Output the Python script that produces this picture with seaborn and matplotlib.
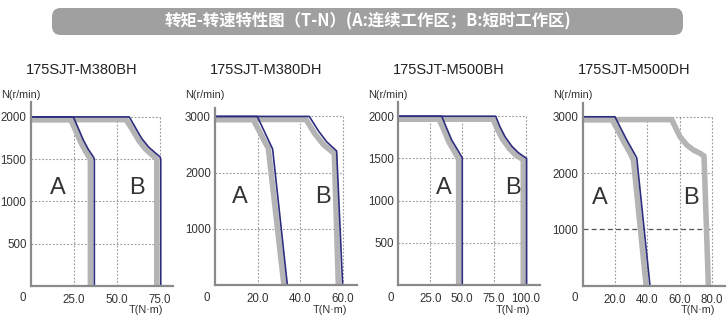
import matplotlib
matplotlib.use("Agg")
import matplotlib.pyplot as plt
import seaborn as sns
import pandas as pd
from matplotlib.patches import FancyBboxPatch

sns.set_theme(style="white")
plt.rcParams['font.family'] = ['Liberation Sans', 'DejaVu Sans']

W, H = 727, 315

banner_text = "转矩-转速特性图（T-N）(A:连续工作区；B:短时工作区)"
models = ["175SJT-M380BH", "175SJT-M380DH", "175SJT-M500BH", "175SJT-M500DH"]
xticks_list = [[25, 50, 75], [20, 40, 60], [25, 50, 75, 100], [20, 40, 60, 80]]
yticks_list = [[500, 1000, 1500, 2000], [1000, 2000, 3000],
               [500, 1000, 1500, 2000], [1000, 2000, 3000]]

# ---- Panel 1: 175SJT-M380BH ----
p1_a_line_T = [0, 24.8, 27.7, 30.6, 33.5, 36.4, 37.0, 37.0]
p1_a_line_N = [2000, 2000, 1864, 1726, 1616, 1528, 1500, 0]
p1_a_band_T = [0, 23.3, 26.2, 29.1, 32.0, 34.7, 34.7]
p1_a_band_N = [1968, 1968, 1835, 1700, 1590, 1500, 0]
p1_b_line_T = [0, 57.3, 60.6, 64.5, 68.4, 72.3, 75.2, 75.6, 75.6]
p1_b_line_N = [2000, 2000, 1883, 1746, 1647, 1576, 1528, 1500, 0]
p1_b_band_T = [0, 55.4, 59.0, 62.9, 66.8, 70.6, 73.3, 73.3]
p1_b_band_N = [1968, 1968, 1855, 1720, 1620, 1550, 1500, 0]

# ---- Panel 2: 175SJT-M380DH ----
p2_a_line_T = [0, 19.8, 27.0, 33.9]
p2_a_line_N = [3000, 3000, 2420, 0]
p2_a_band_T = [0, 17.9, 25.0, 32.3]
p2_a_band_N = [2945, 2945, 2430, 0]
p2_b_line_T = [0, 44.2, 48.5, 52.3, 57.0, 59.8]
p2_b_line_N = [3000, 3000, 2740, 2550, 2384, 0]
p2_b_band_T = [0, 42.7, 46.8, 50.8, 55.9, 57.8]
p2_b_band_N = [2945, 2945, 2690, 2500, 2340, 0]

# ---- Panel 3: 175SJT-M500BH ----
p3_a_line_T = [0, 34.0, 37.9, 41.8, 45.7, 49.6, 50.1, 50.1]
p3_a_line_N = [2000, 2000, 1857, 1718, 1620, 1520, 1500, 0]
p3_a_band_T = [0, 32.0, 35.9, 39.8, 43.7, 47.3, 47.3]
p3_a_band_N = [1965, 1965, 1830, 1690, 1590, 1490, 0]
p3_b_line_T = [0, 76.3, 79.6, 83.6, 88.8, 94.0, 99.2, 100.5, 100.5]
p3_b_line_N = [2000, 2000, 1876, 1757, 1647, 1568, 1513, 1500, 0]
p3_b_band_T = [0, 74.3, 77.6, 81.6, 86.8, 92.0, 97.9, 97.9]
p3_b_band_N = [1965, 1965, 1848, 1730, 1620, 1540, 1485, 0]

# ---- Panel 4: 175SJT-M500DH ----
p4_a_line_T = [0, 20.0, 23.1, 27.3, 31.4, 33.5, 41.7]
p4_a_line_N = [3000, 3000, 2824, 2588, 2380, 2270, 0]
p4_a_band_T = [0, 18.2, 21.3, 25.5, 29.6, 31.5, 39.3]
p4_a_band_N = [2950, 2950, 2790, 2555, 2345, 2220, 0]
p4_b_line_T = []
p4_b_line_N = []
p4_b_band_T = [0, 55.2, 57.3, 60.3, 64.5, 68.6, 72.7, 75.2, 77.9]
p4_b_band_N = [2950, 2950, 2824, 2647, 2499, 2410, 2352, 2304, 0]

panels = [
    dict(a_line=(p1_a_line_T, p1_a_line_N), a_band=(p1_a_band_T, p1_a_band_N),
         b_line=(p1_b_line_T, p1_b_line_N), b_band=(p1_b_band_T, p1_b_band_N),
         box=(30.7, 173.3, 101.7, 286.0), xlim=82.9, ylim=2180,
         a_pos=(16, 1160), b_pos=(62, 1160)),
    dict(a_line=(p2_a_line_T, p2_a_line_N), a_band=(p2_a_band_T, p2_a_band_N),
         b_line=(p2_b_line_T, p2_b_line_N), b_band=(p2_b_band_T, p2_b_band_N),
         box=(215.0, 356.7, 108.0, 285.0), xlim=66.4, ylim=3150,
         a_pos=(11.7, 1570), b_pos=(50.5, 1570)),
    dict(a_line=(p3_a_line_T, p3_a_line_N), a_band=(p3_a_band_T, p3_a_band_N),
         b_line=(p3_b_line_T, p3_b_line_N), b_band=(p3_b_band_T, p3_b_band_N),
         box=(398.3, 540.0, 101.7, 285.0), xlim=111.0, ylim=2172,
         a_pos=(35.8, 1150), b_pos=(89.6, 1150)),
    dict(a_line=(p4_a_line_T, p4_a_line_N), a_band=(p4_a_band_T, p4_a_band_N),
         b_line=(p4_b_line_T, p4_b_line_N), b_band=(p4_b_band_T, p4_b_band_N),
         box=(582.7, 725.0, 103.0, 285.7), xlim=88.2, ylim=3245,
         a_pos=(10.7, 1560), b_pos=(67.0, 1560)),
]

fig = plt.figure(figsize=(W / 100, H / 100), dpi=100)
fig.patch.set_facecolor("white")

# Banner
bx0, bx1, by0, by1 = 52, 683, 8, 35
banner = FancyBboxPatch((bx0 / W, 1 - by1 / H), (bx1 - bx0) / W, (by1 - by0) / H,
                        boxstyle="round,pad=0,rounding_size=0.012",
                        transform=fig.transFigure, facecolor="#a0a0a0",
                        edgecolor="none", mutation_aspect=W / H)
fig.patches.append(banner)
fig.text((bx0 + bx1) / 2 / W, 1 - (by0 + by1) / 2 / H, banner_text,
         ha="center", va="center", color="white", fontsize=11.8, fontweight="bold",
         family=["Noto Sans CJK SC", "DejaVu Sans"])

band_color = "#b4b4b4"
line_color = "#2d2d7e"
grid_color = "#9a9a9a"
axis_color = "#8a8a8a"
text_color = "#333333"

for i, p in enumerate(panels):
    l, r, t, b = p["box"]
    ax = fig.add_axes([l / W, 1 - b / H, (r - l) / W, (b - t) / H])
    ax.set_facecolor("white")
    xt, yt = xticks_list[i], yticks_list[i]
    ax.set_xlim(0, p["xlim"])
    ax.set_ylim(0, p["ylim"])

    # grid within tick box
    for y in yt:
        if i == 3 and y == 1000:
            ax.hlines(y, 0, xt[-1], colors="#555555", linewidth=0.9,
                      linestyles=(0, (4, 2.5)), zorder=1)
        else:
            ax.hlines(y, 0, xt[-1], colors=grid_color, linewidth=0.8,
                      linestyles=(0, (1.6, 1.6)), zorder=1)
    ax.vlines(xt, 0, yt[-1], colors=grid_color, linewidth=0.8,
              linestyles=(0, (1.6, 1.6)), zorder=1)

    for key in ["a_band", "b_band"]:
        T, N = p[key]
        sns.lineplot(x=T, y=N, sort=False, estimator=None, ax=ax,
                     color=band_color, linewidth=4.0, zorder=3,
                     solid_joinstyle="round", solid_capstyle="butt")
    for key in ["a_line", "b_line"]:
        T, N = p[key]
        if len(T):
            sns.lineplot(x=T, y=N, sort=False, estimator=None, ax=ax,
                         color=line_color, linewidth=1.2, zorder=4,
                         solid_joinstyle="round", solid_capstyle="butt")

    ax.text(*p["a_pos"], "A", ha="center", va="center", fontsize=17,
            color=text_color, zorder=5)
    ax.text(*p["b_pos"], "B", ha="center", va="center", fontsize=17,
            color=text_color, zorder=5)

    for s in ["top", "right"]:
        ax.spines[s].set_visible(False)
    for s in ["left", "bottom"]:
        ax.spines[s].set_color(axis_color)
        ax.spines[s].set_linewidth(1.6)
        ax.spines[s].set_zorder(6)

    ax.set_xticks(xt)
    ax.set_xticklabels([f"{v:.1f}" for v in xt])
    ax.set_yticks(yt)
    ax.set_yticklabels([f"{v}" for v in yt])
    ax.tick_params(axis="both", length=0, labelsize=8.3, colors=text_color)
    ax.tick_params(axis="x", pad=6)
    ax.tick_params(axis="y", pad=3)
    ax.set_xlabel("")
    ax.set_ylabel("")

    # origin label, axis labels, title
    fig.text((l - 8) / W, 1 - 298 / H, "0", ha="center", va="center",
             fontsize=8.3, color=text_color)
    fig.text((l - 30) / W, 1 - 95 / H, "N(r/min)", ha="left", va="center",
             fontsize=7.8, color=text_color)
    fig.text((r - 10) / W, 1 - 310 / H, "T(N·m)", ha="right", va="center",
             fontsize=7.8, color=text_color)
    fig.text((l - 5) / W, 1 - 70 / H, models[i], ha="left", va="center",
             fontsize=10.5, color="#222222")

fig.savefig("out.png", dpi=100, facecolor="white")
